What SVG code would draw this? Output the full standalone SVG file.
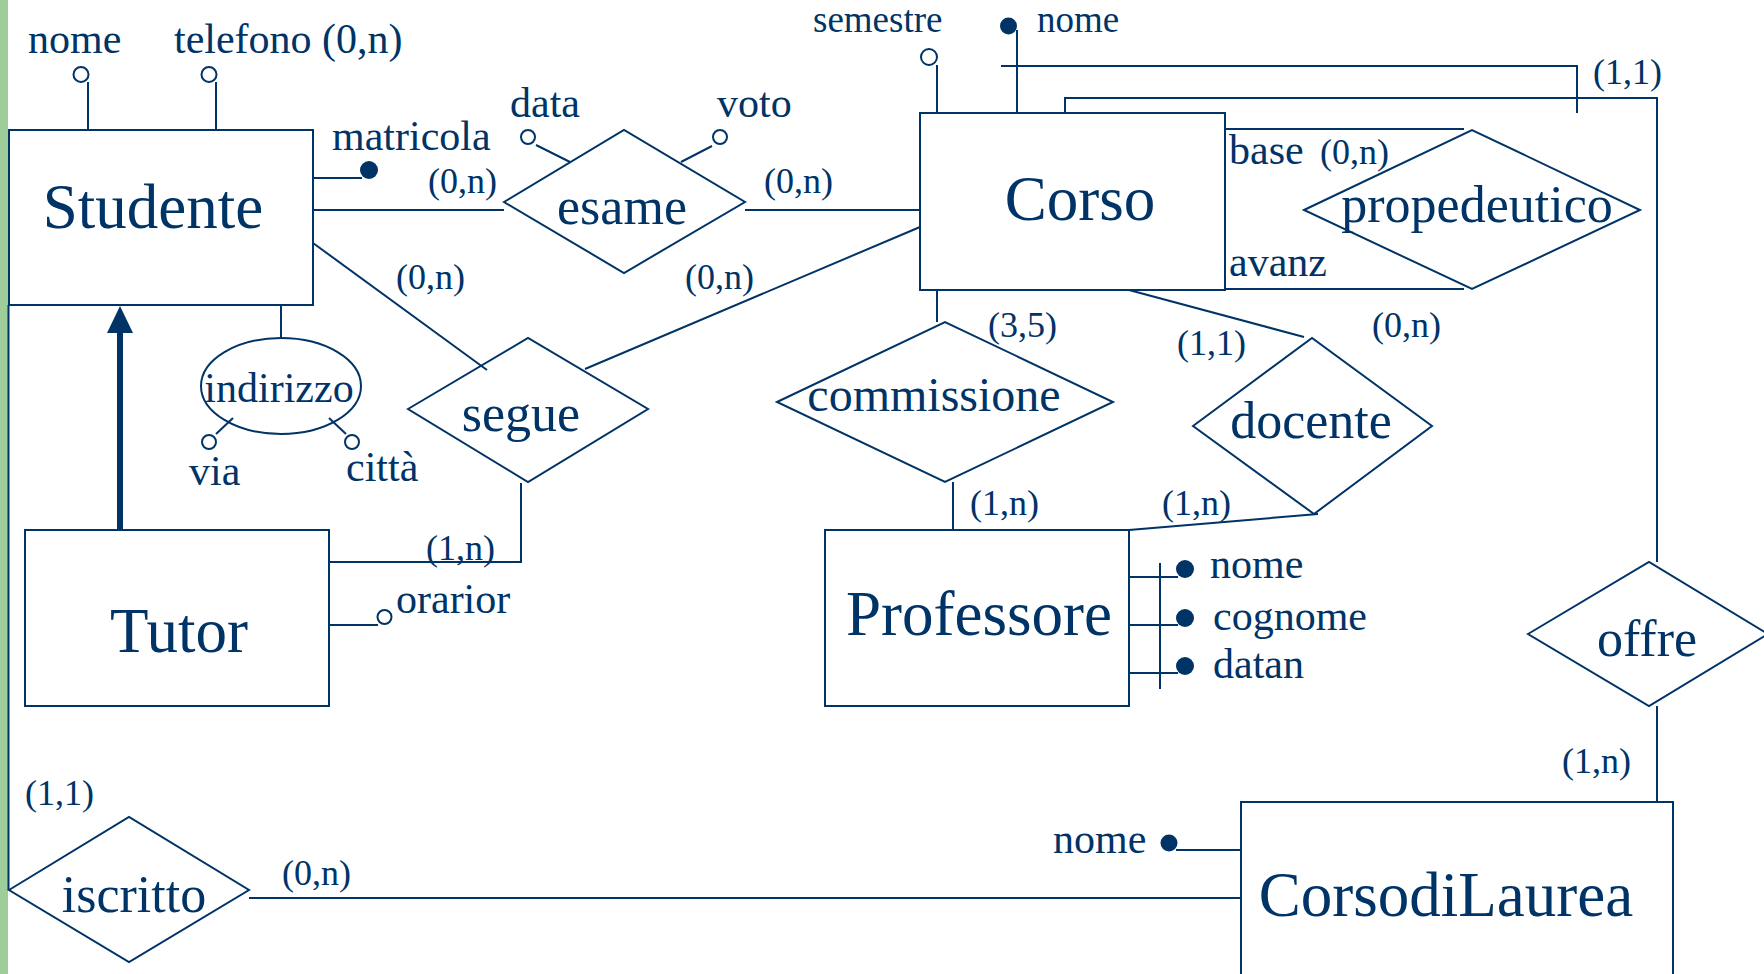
<svg xmlns="http://www.w3.org/2000/svg" width="1764" height="974" viewBox="0 0 1764 974">
<style>
.ln{stroke:#003366;stroke-width:2;fill:none}
.sh{stroke:#003366;stroke-width:2;fill:none}
.t{font-family:"Liberation Serif","Times New Roman",serif;fill:#003366}
.ent{font-size:63px;text-anchor:middle}
.rel{font-size:52px;text-anchor:middle}
.att{font-size:42px}
.sm{font-size:37px}
.card{font-size:36px}
.oc{fill:#fff;stroke:#003366;stroke-width:2}
.fc{fill:#003366}
</style>
<rect x="0" y="0" width="1764" height="974" fill="#fff"/>
<rect x="0" y="0" width="8" height="974" fill="#9dcd98"/>

<g id="connectors">
  <line class="ln" x1="313" y1="210" x2="504" y2="210"/>
  <line class="ln" x1="745" y1="210" x2="920" y2="210"/>
  <line class="ln" x1="313" y1="243" x2="487" y2="370"/>
  <line class="ln" x1="585" y1="369" x2="920" y2="227"/>
  <polyline class="ln" points="521,483 521,562 329,562"/>
  <line x1="120" y1="530" x2="120" y2="328" stroke="#003366" stroke-width="6"/>
  <polygon points="120,306 107,333 133,333" fill="#003366"/>
  <line class="ln" x1="8.5" y1="305" x2="8.5" y2="890"/>
  <line class="ln" x1="249" y1="898" x2="1241" y2="898" stroke-width="2.5"/>
  <line class="ln" x1="937" y1="290" x2="937" y2="322"/>
  <line class="ln" x1="953" y1="482" x2="953" y2="530"/>
  <line class="ln" x1="1129" y1="290" x2="1304" y2="337"/>
  <line class="ln" x1="1318" y1="514" x2="1129" y2="530"/>
  <line class="ln" x1="1225" y1="129" x2="1464" y2="129"/>
  <line class="ln" x1="1225" y1="289" x2="1464" y2="289"/>
  <polyline class="ln" points="1065,113 1065,98 1657,98 1657,562"/>
  <line class="ln" x1="1657" y1="706" x2="1657" y2="802"/>
  <polyline class="ln" points="1001,66 1577,66 1577,113"/>
  <text class="t card" x="428" y="193">(0,n)</text>
  <text class="t card" x="764" y="193">(0,n)</text>
  <text class="t card" x="396" y="289">(0,n)</text>
  <text class="t card" x="685" y="289">(0,n)</text>
  <text class="t card" x="426" y="560">(1,n)</text>
  <text class="t card" x="988" y="337">(3,5)</text>
  <text class="t card" x="1177" y="355">(1,1)</text>
  <text class="t card" x="1372" y="337">(0,n)</text>
  <text class="t card" x="970" y="515">(1,n)</text>
  <text class="t card" x="1162" y="515">(1,n)</text>
  <text class="t card" x="1593" y="84">(1,1)</text>
  <text class="t card" x="1562" y="773">(1,n)</text>
  <text class="t card" x="25" y="805">(1,1)</text>
  <text class="t card" x="282" y="885">(0,n)</text>
  <text class="t att" x="1229" y="164">base</text>
  <text class="t card" x="1320" y="164">(0,n)</text>
  <text class="t att" x="1229" y="276">avanz</text>
</g>

<g id="Studente">
  <rect class="sh" x="9" y="130" width="304" height="175"/>
  <text class="t ent" x="153" y="228">Studente</text>
  <line class="ln" x1="88" y1="82" x2="88" y2="130"/>
  <circle class="oc" cx="81" cy="74.5" r="7.5"/>
  <text class="t att" x="28" y="53">nome</text>
  <line class="ln" x1="216" y1="82" x2="216" y2="130"/>
  <circle class="oc" cx="209" cy="74.5" r="7.5"/>
  <text class="t att" x="174" y="53">telefono (0,n)</text>
  <line class="ln" x1="313" y1="178" x2="362" y2="178"/>
  <circle class="fc" cx="369" cy="170" r="9"/>
  <text class="t att" x="332" y="150">matricola</text>
  <line class="ln" x1="281" y1="305" x2="281" y2="338"/>
  <ellipse class="sh" cx="281" cy="386" rx="80" ry="48"/>
  <text class="t att" x="279" y="402" text-anchor="middle">indirizzo</text>
  <line class="ln" x1="216" y1="434" x2="233" y2="418"/>
  <circle class="oc" cx="209" cy="442" r="7"/>
  <text class="t att" x="189" y="485">via</text>
  <line class="ln" x1="346" y1="434" x2="329" y2="418"/>
  <circle class="oc" cx="352" cy="442" r="7"/>
  <text class="t att" x="346" y="481">città</text>
</g>

<g id="esame">
  <polygon class="sh" points="504,202 624,130 745,202 624,273"/>
  <text class="t rel" x="622" y="224">esame</text>
  <line class="ln" x1="536" y1="145" x2="570" y2="162"/>
  <circle class="oc" cx="528" cy="137" r="7"/>
  <text class="t att" x="510" y="117">data</text>
  <line class="ln" x1="712" y1="146" x2="681" y2="162"/>
  <circle class="oc" cx="720" cy="137" r="7"/>
  <text class="t att" x="717" y="117">voto</text>
</g>

<g id="Corso">
  <rect class="sh" x="920" y="113" width="305" height="177"/>
  <text class="t ent" x="1080" y="220">Corso</text>
  <line class="ln" x1="937" y1="65" x2="937" y2="113"/>
  <circle class="oc" cx="929" cy="57" r="8"/>
  <text class="t sm" x="813" y="32">semestre</text>
  <line class="ln" x1="1017" y1="30" x2="1017" y2="113"/>
  <circle class="fc" cx="1008.5" cy="26" r="8.5"/>
  <text class="t sm" x="1037" y="32">nome</text>
</g>

<g id="propedeutico">
  <polygon class="sh" points="1304,210 1472,130 1640,210 1472,289"/>
  <text class="t rel" x="1477" y="222">propedeutico</text>
</g>

<g id="segue">
  <polygon class="sh" points="408,409 528,338 648,409 528,482"/>
  <text class="t rel" x="521" y="431">segue</text>
</g>

<g id="commissione">
  <polygon class="sh" points="777,402 945,322 1113,402 945,482"/>
  <text class="t rel" x="934" y="411" style="font-size:48px">commissione</text>
</g>

<g id="docente">
  <polygon class="sh" points="1193,426 1312,338 1432,426 1314,514"/>
  <text class="t rel" x="1311" y="438">docente</text>
</g>

<g id="Tutor">
  <rect class="sh" x="25" y="530" width="304" height="176"/>
  <text class="t ent" x="179" y="652">Tutor</text>
  <line class="ln" x1="329" y1="625" x2="378" y2="625"/>
  <circle class="oc" cx="384.5" cy="617" r="7"/>
  <text class="t att" x="396" y="613">orarior</text>
</g>

<g id="Professore">
  <rect class="sh" x="825" y="530" width="304" height="176"/>
  <text class="t ent" x="979" y="635">Professore</text>
  <line class="ln" x1="1129" y1="577" x2="1178" y2="577"/>
  <line class="ln" x1="1129" y1="625" x2="1178" y2="625"/>
  <line class="ln" x1="1129" y1="673" x2="1178" y2="673"/>
  <line class="ln" x1="1160" y1="563" x2="1160" y2="689"/>
  <circle class="fc" cx="1185" cy="569" r="9"/>
  <circle class="fc" cx="1185" cy="618" r="9"/>
  <circle class="fc" cx="1185" cy="666" r="9"/>
  <text class="t att" x="1210" y="578">nome</text>
  <text class="t att" x="1213" y="630">cognome</text>
  <text class="t att" x="1213" y="678">datan</text>
</g>

<g id="offre">
  <polygon class="sh" points="1528,634 1649,562 1768,634 1649,706"/>
  <text class="t rel" x="1647" y="656">offre</text>
</g>

<g id="iscritto">
  <polygon class="sh" points="9,890 129,817 249,890 129,962"/>
  <text class="t rel" x="134" y="912">iscritto</text>
</g>

<g id="CorsodiLaurea">
  <rect class="sh" x="1241" y="802" width="432" height="200"/>
  <text class="t ent" x="1446" y="916">CorsodiLaurea</text>
  <line class="ln" x1="1176" y1="850" x2="1241" y2="850"/>
  <circle class="fc" cx="1169" cy="843" r="8.5"/>
  <text class="t att" x="1053" y="853">nome</text>
</g>
</svg>
